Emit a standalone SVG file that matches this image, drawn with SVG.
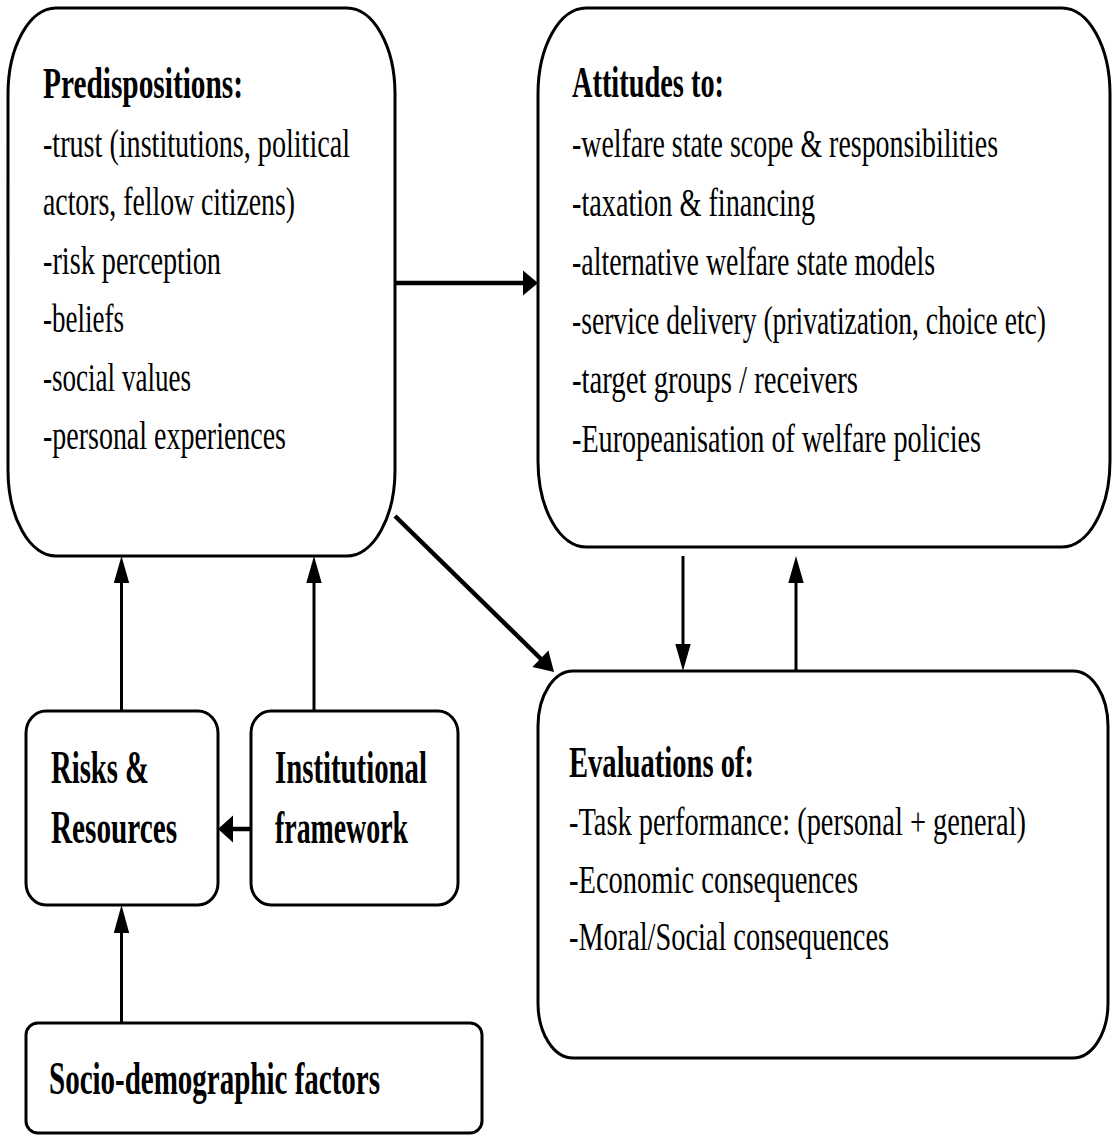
<svg xmlns="http://www.w3.org/2000/svg" width="1112" height="1137" viewBox="0 0 1112 1137">
<style>
.box{fill:#fff;stroke:#000;stroke-width:3}
.t{font-family:"Liberation Serif","Times New Roman",serif;font-size:40px;fill:#000}
.h{font-family:"Liberation Serif","Times New Roman",serif;font-size:44px;font-weight:bold;fill:#000}
.s{font-family:"Liberation Serif","Times New Roman",serif;font-size:46px;font-weight:bold;fill:#000}
.thin{stroke:#000;stroke-width:3;fill:none}
.thick{stroke:#000;stroke-width:4.5;fill:none}
.head{fill:#000}
</style>
<rect width="1112" height="1137" fill="#fff"/>
<g id="predispositions">
<rect class="box" x="8" y="8" width="387" height="548" rx="48" ry="86"/>
<text class="h" x="43" y="98" textLength="200" lengthAdjust="spacingAndGlyphs">Predispositions:</text>
<text class="t" x="43" y="157" textLength="307" lengthAdjust="spacingAndGlyphs">-trust (institutions, political</text>
<text class="t" x="43" y="215" textLength="252" lengthAdjust="spacingAndGlyphs">actors, fellow citizens)</text>
<text class="t" x="43" y="274" textLength="178" lengthAdjust="spacingAndGlyphs">-risk perception</text>
<text class="t" x="43" y="332" textLength="81" lengthAdjust="spacingAndGlyphs">-beliefs</text>
<text class="t" x="43" y="391" textLength="148" lengthAdjust="spacingAndGlyphs">-social values</text>
<text class="t" x="43" y="449" textLength="243" lengthAdjust="spacingAndGlyphs">-personal experiences</text>
</g>
<g id="attitudes">
<rect class="box" x="538" y="8" width="572" height="539" rx="48" ry="86"/>
<text class="h" x="572" y="97" textLength="152" lengthAdjust="spacingAndGlyphs">Attitudes to:</text>
<text class="t" x="572" y="157" textLength="426" lengthAdjust="spacingAndGlyphs">-welfare state scope &amp; responsibilities</text>
<text class="t" x="572" y="216" textLength="243" lengthAdjust="spacingAndGlyphs">-taxation &amp; financing</text>
<text class="t" x="572" y="275" textLength="363" lengthAdjust="spacingAndGlyphs">-alternative welfare state models</text>
<text class="t" x="572" y="334" textLength="474" lengthAdjust="spacingAndGlyphs">-service delivery (privatization, choice etc)</text>
<text class="t" x="572" y="393" textLength="286" lengthAdjust="spacingAndGlyphs">-target groups / receivers</text>
<text class="t" x="572" y="452" textLength="409" lengthAdjust="spacingAndGlyphs">-Europeanisation of welfare policies</text>
</g>
<g id="evaluations">
<rect class="box" x="538" y="671" width="570" height="387" rx="35" ry="55"/>
<text class="h" x="569" y="777" textLength="185" lengthAdjust="spacingAndGlyphs">Evaluations of:</text>
<text class="t" x="569" y="835" textLength="457" lengthAdjust="spacingAndGlyphs">-Task performance: (personal + general)</text>
<text class="t" x="569" y="893" textLength="289" lengthAdjust="spacingAndGlyphs">-Economic consequences</text>
<text class="t" x="569" y="950" textLength="320" lengthAdjust="spacingAndGlyphs">-Moral/Social consequences</text>
</g>
<g id="risks">
<rect class="box" x="26" y="711" width="192" height="194" rx="20" ry="22"/>
<text class="s" x="51" y="783" textLength="98" lengthAdjust="spacingAndGlyphs">Risks &amp;</text>
<text class="s" x="51" y="843" textLength="126" lengthAdjust="spacingAndGlyphs">Resources</text>
</g>
<g id="institutional">
<rect class="box" x="251" y="711" width="207" height="194" rx="20" ry="22"/>
<text class="s" x="275" y="783" textLength="152" lengthAdjust="spacingAndGlyphs">Institutional</text>
<text class="s" x="275" y="843" textLength="133" lengthAdjust="spacingAndGlyphs">framework</text>
</g>
<g id="socio">
<rect class="box" x="26" y="1023" width="456" height="110" rx="12" ry="12"/>
<text class="s" x="49" y="1094" textLength="331" lengthAdjust="spacingAndGlyphs">Socio-demographic factors</text>
</g>
<g id="connectors">
<line class="thick" x1="395" y1="283" x2="524" y2="283"/>
<polygon class="head" points="538,283 523,270.5 523,295.5"/>
<line class="thick" x1="395" y1="516" x2="541" y2="659"/>
<polygon class="head" points="554,672 532.4,666.9 548.4,650.5"/>
<line class="thin" x1="121.5" y1="711" x2="121.5" y2="580"/>
<polygon class="head" points="121.5,556 113.8,583 129.2,583"/>
<line class="thin" x1="314" y1="711" x2="314" y2="580"/>
<polygon class="head" points="314,556 306.3,583 321.7,583"/>
<line class="thick" x1="251" y1="829" x2="231" y2="829"/>
<polygon class="head" points="218,829 233,815.5 233,842.5"/>
<line class="thin" x1="121.5" y1="1023" x2="121.5" y2="930"/>
<polygon class="head" points="121.5,905 113.8,933 129.2,933"/>
<line class="thin" x1="683" y1="556" x2="683" y2="647"/>
<polygon class="head" points="683,671 675.3,644 690.7,644"/>
<line class="thin" x1="796" y1="671" x2="796" y2="580"/>
<polygon class="head" points="796,556 788.3,583 803.7,583"/>
</g>
</svg>
